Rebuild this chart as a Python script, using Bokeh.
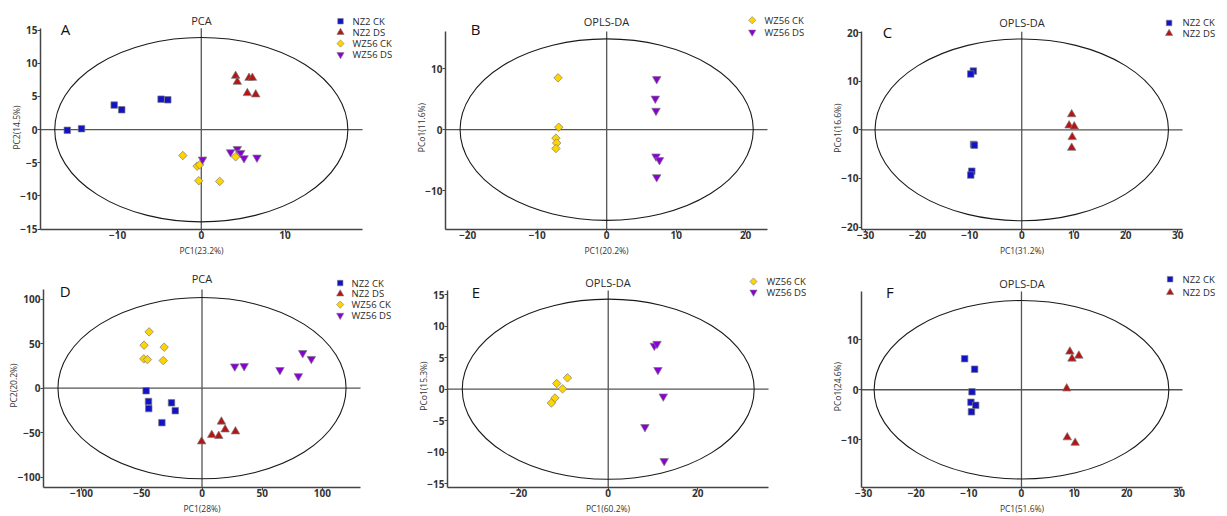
import math
from bokeh.plotting import figure
from bokeh.layouts import row, column
from bokeh.models import Label, FixedTicker, Range1d, Title
from bokeh.embed import file_html
from bokeh.resources import INLINE

FONT = "Open Sans"

# ---------------- data ----------------
# Panel A (PCA, all four groups)
a_nz2ck_x = [-16.0, -14.3, -10.4, -9.5, -4.8, -4.0]
a_nz2ck_y = [-0.1, 0.15, 3.7, 3.0, 4.6, 4.5]
a_nz2ds_x = [4.1, 4.3, 5.7, 6.1, 5.5, 6.5]
a_nz2ds_y = [8.1, 7.2, 7.8, 7.8, 5.5, 5.3]
a_wzck_x = [-2.2, -0.5, -0.2, -0.3, 2.2, 4.1]
a_wzck_y = [-3.9, -5.5, -5.3, -7.7, -7.8, -4.1]
a_wzds_x = [0.15, 3.5, 4.3, 4.7, 5.1, 6.65]
a_wzds_y = [-4.5, -3.4, -2.9, -3.5, -4.3, -4.2]

# Panel B (OPLS-DA, WZ56)
b_wzck_x = [-7.0, -6.9, -7.3, -7.2, -7.3]
b_wzck_y = [8.5, 0.4, -1.4, -2.2, -3.1]
b_wzds_x = [7.2, 7.0, 7.1, 7.1, 7.6, 7.2]
b_wzds_y = [8.3, 5.1, 3.1, -4.4, -5.0, -7.8]

# Panel C (OPLS-DA, NZ2)
c_nz2ck_x = [-9.3, -9.8, -9.25, -9.1, -9.6, -9.8]
c_nz2ck_y = [12.1, 11.5, -3.0, -3.15, -8.5, -9.3]
c_nz2ds_x = [9.6, 9.1, 10.1, 9.7, 9.6]
c_nz2ds_y = [3.2, 0.9, 0.7, -1.5, -3.7]

# Panel D (PCA, all four groups)
d_nz2ck_x = [-46.4, -44.4, -44.2, -25.3, -22.2, -33.3]
d_nz2ck_y = [-2.9, -15.0, -23.0, -16.5, -25.3, -38.8]
d_nz2ds_x = [-0.3, 8.1, 13.9, 16.1, 19.2, 27.8]
d_nz2ds_y = [-60.0, -52.7, -53.8, -37.7, -46.5, -48.7]
d_wzck_x = [-43.9, -48.1, -48.3, -45.3, -31.4, -32.2]
d_wzck_y = [63.4, 48.4, 33.0, 32.2, 46.2, 31.1]
d_wzds_x = [27.2, 35.0, 64.7, 80.0, 83.6, 90.8]
d_wzds_y = [24.5, 24.9, 20.5, 13.6, 39.6, 33.0]

# Panel E (OPLS-DA, WZ56)
e_wzck_x = [-11.5, -9.1, -10.2, -11.9, -12.7]
e_wzck_y = [0.9, 1.8, 0.05, -1.4, -2.2]
e_wzds_x = [10.3, 10.9, 11.1, 12.3, 8.2, 12.5]
e_wzds_y = [6.9, 7.2, 3.05, -1.15, -6.0, -11.4]

# Panel F (OPLS-DA, NZ2)
f_nz2ck_x = [-10.8, -8.9, -9.4, -9.6, -8.7, -9.5]
f_nz2ck_y = [6.2, 4.1, -0.4, -2.5, -3.1, -4.4]
f_nz2ds_x = [9.2, 9.6, 10.9, 8.6, 8.7, 10.2]
f_nz2ds_y = [7.6, 6.2, 6.8, 0.25, -9.5, -10.6]

# confidence ellipse semi-axes per panel
ellipse_a = [17.5, 21.1, 28.2, 119.6, 32.6, 28.0]
ellipse_b = [13.9, 14.9, 18.7, 102.0, 14.3, 17.8]

# axis labels / titles
titles = ["PCA", "OPLS-DA", "OPLS-DA", "PCA", "OPLS-DA", "OPLS-DA"]
letters = ["A", "B", "C", "D", "E", "F"]
xlabels = ["PC1(23.2%)", "PC1(20.2%)", "PC1(31.2%)", "PC1(28%)", "PC1(60.2%)", "PC1(51.6%)"]
ylabels = ["PC2(14.5%)", "PCo1(11.6%)", "PCo1(16.6%)", "PC2(20.2%)", "PCo1(15.3%)", "PCo1(24.6%)"]

# tick values
a_xticks = [-10, 0, 10]
a_yticks = [-15, -10, -5, 0, 5, 10, 15]
b_xticks = [-20, -10, 0, 10, 20]
b_yticks = [-10, 0, 10]
c_xticks = [-30, -20, -10, 0, 10, 20, 30]
c_yticks = [-20, -10, 0, 10, 20]
d_xticks = [-100, -50, 0, 50, 100]
d_yticks = [-100, -50, 0, 50, 100]
e_xticks = [-20, 0, 20]
e_yticks = [-15, -10, -5, 0, 5, 10, 15]
f_xticks = [-30, -20, -10, 0, 10, 20, 30]
f_yticks = [-10, 0, 10]

# ---------------- styles ----------------
STYLE = {
    "NZ2 CK": dict(marker="square", color="#1212c6", size=6.5, angle=0.0),
    "NZ2 DS": dict(marker="triangle", color="#b51515", size=8.5, angle=0.0),
    "WZ56 CK": dict(marker="square", color="#ffd400", size=6.0, angle=math.pi / 4),
    "WZ56 DS": dict(marker="inverted_triangle", color="#8a00d4", size=8.5, angle=0.0),
}
AXIS_C = "#444444"
TXT_C = "#2a2a2a"
FT, FR = 1, 1   # tiny outer borders: the frame covers the title/legend area too
LAB_SIZE = 8.5

# approximate Open Sans advance widths (em) for centring the axis titles
_W = {"P": 0.603, "C": 0.632, "o": 0.602, "(": 0.296, ")": 0.296, ".": 0.266, "%": 0.823}


def text_w(s, size):
    return sum(_W.get(ch, 0.572) for ch in s) * size


def panel(W, H, box, xr, yr, xt, yt, idx, title_dy, letter_dxy, legend_dxy,
          rowh, text_dx, series):
    left, top, fw, fh = box          # the axis box (where the data ranges live)
    ppx = fw / (xr[1] - xr[0])
    ppy = fh / (yr[1] - yr[0])
    x_end = xr[1] + (W - FR - left - fw) / ppx
    y_end = yr[1] + (top - FT) / ppy

    def X(px):
        return xr[0] + px / ppx

    def Y(py):
        return yr[1] - py / ppy

    p = figure(width=W, height=H, x_range=Range1d(xr[0], x_end), y_range=Range1d(yr[0], y_end),
               output_backend="svg", toolbar_location=None, title_location=None,
               min_border_left=left, min_border_top=FT,
               min_border_right=FR, min_border_bottom=H - top - fh)
    p.background_fill_color = "white"
    p.border_fill_color = "white"
    p.outline_line_color = None
    p.grid.visible = False

    for ax, ticks, bnd in ((p.xaxis[0], xt, xr), (p.yaxis[0], yt, yr)):
        ax.ticker = FixedTicker(ticks=ticks)
        ax.bounds = bnd
        ax.axis_line_color = AXIS_C
        ax.axis_line_width = 1.5
        ax.major_tick_line_color = AXIS_C
        ax.major_tick_out = 3
        ax.major_tick_in = 0
        ax.minor_tick_line_color = None
        ax.major_label_text_font = FONT
        ax.major_label_text_font_size = "10px"
        ax.major_label_text_font_style = "bold"
        ax.major_label_text_color = "#333333"
    p.xaxis[0].major_label_standoff = -2
    p.yaxis[0].major_label_standoff = 0
    p.yaxis[0].axis_label_standoff = 0

    # axis titles, centred on the axis box (not on the enlarged frame)
    wx = text_w(xlabels[idx], LAB_SIZE)
    p.add_layout(Title(text=xlabels[idx], align="left", offset=fw / 2 - wx / 2, standoff=4,
                       vertical_align="middle", text_font=FONT,
                       text_font_size=f"{LAB_SIZE}px", text_font_style="normal",
                       text_color="#333333"), "below")
    wy = text_w(ylabels[idx], LAB_SIZE)
    p.add_layout(Title(text=ylabels[idx], align="left", offset=fh / 2 - wy / 2, standoff=-11,
                       vertical_align="middle", text_font=FONT,
                       text_font_size=f"{LAB_SIZE}px", text_font_style="normal",
                       text_color="#333333"), "left")

    # cross-hair through the origin, limited to the axis box
    p.segment(x0=[0, xr[0]], y0=[yr[0], 0], x1=[0, xr[1]], y1=[yr[1], 0],
              line_color="#555555", line_width=1.3)

    p.ellipse(x=[0], y=[0], width=[2 * ellipse_a[idx]], height=[2 * ellipse_b[idx]],
              fill_color=None, line_color="#1a1a1a", line_width=1.1)

    mdx, mdy = legend_dxy
    for i, (name, xs, ys) in enumerate(series):
        st = STYLE[name]
        p.scatter(xs, ys, marker=st["marker"], size=st["size"], angle=st["angle"],
                  fill_color=st["color"], line_color="#7a7a7a", line_width=0.7)
        # legend entry
        p.scatter([X(mdx)], [Y(mdy + i * rowh)], marker=st["marker"], size=st["size"] * 0.85,
                  angle=st["angle"], fill_color=st["color"], line_color="#7a7a7a", line_width=0.6)
        p.add_layout(Label(x=X(text_dx), y=Y(mdy + i * rowh), text=name,
                           text_align="left", text_baseline="middle",
                           text_font=FONT, text_font_size="9.5px", text_color=TXT_C))

    p.add_layout(Label(x=X(fw / 2), y=Y(title_dy), text=titles[idx],
                       text_align="center", text_baseline="middle",
                       text_font=FONT, text_font_size="11px", text_color=TXT_C))
    ldx, ldy = letter_dxy
    p.add_layout(Label(x=X(ldx), y=Y(ldy), text=letters[idx],
                       text_align="center", text_baseline="middle",
                       text_font=FONT, text_font_size="15px", text_color="#111111"))
    return p


pA = panel(410, 258, (40, 28, 322, 204), (-19.2, 19.25), (-15.05, 15.3), a_xticks, a_yticks, 0,
           -8, (25, 1), (300, -7), 11.3, 312,
           [("NZ2 CK", a_nz2ck_x, a_nz2ck_y), ("NZ2 DS", a_nz2ds_x, a_nz2ds_y),
            ("WZ56 CK", a_wzck_x, a_wzck_y), ("WZ56 DS", a_wzds_x, a_wzds_y)])
pB = panel(410, 258, (35, 32, 322, 204), (-23.2, 23.15), (-16.4, 16.1), b_xticks, b_yticks, 1,
           -10, (30, -2.7), (306.7, -11.7), 12.3, 319,
           [("WZ56 CK", b_wzck_x, b_wzck_y), ("WZ56 DS", b_wzds_x, b_wzds_y)])
pC = panel(399, 258, (41, 32, 321, 203), (-30.8, 30.9), (-20.5, 20.2), c_xticks, c_yticks, 2,
           -9, (26, 0.3), (307.6, -9), 10.7, 321,
           [("NZ2 CK", c_nz2ck_x, c_nz2ck_y), ("NZ2 DS", c_nz2ds_x, c_nz2ds_y)])
pD = panel(410, 258, (43, 32, 317, 204), (-131.6, 131.6), (-111.8, 111.0), d_xticks, d_yticks, 3,
           -11, (21.7, 1.7), (296.7, -6.7), 11.1, 308,
           [("NZ2 CK", d_nz2ck_x, d_nz2ck_y), ("NZ2 DS", d_nz2ds_x, d_nz2ds_y),
            ("WZ56 CK", d_wzck_x, d_wzck_y), ("WZ56 DS", d_wzds_x, d_wzds_y)])
pE = panel(410, 258, (37, 33, 321, 203), (-35.9, 35.8), (-15.6, 15.65), e_xticks, e_yticks, 4,
           -8.3, (28.4, 2), (306, -9.3), 11, 319,
           [("WZ56 CK", e_wzck_x, e_wzck_y), ("WZ56 DS", e_wzds_x, e_wzds_y)])
pF = panel(399, 258, (41, 34, 321, 202), (-30.4, 30.6), (-19.5, 19.6), f_xticks, f_yticks, 5,
           -8.4, (28.3, 0), (308.6, -12.7), 13.7, 321,
           [("NZ2 CK", f_nz2ck_x, f_nz2ck_y), ("NZ2 DS", f_nz2ds_x, f_nz2ds_y)])

layout = column(row(pA, pB, pC), row(pD, pE, pF))
open("out.html", "w").write(file_html(layout, INLINE))
